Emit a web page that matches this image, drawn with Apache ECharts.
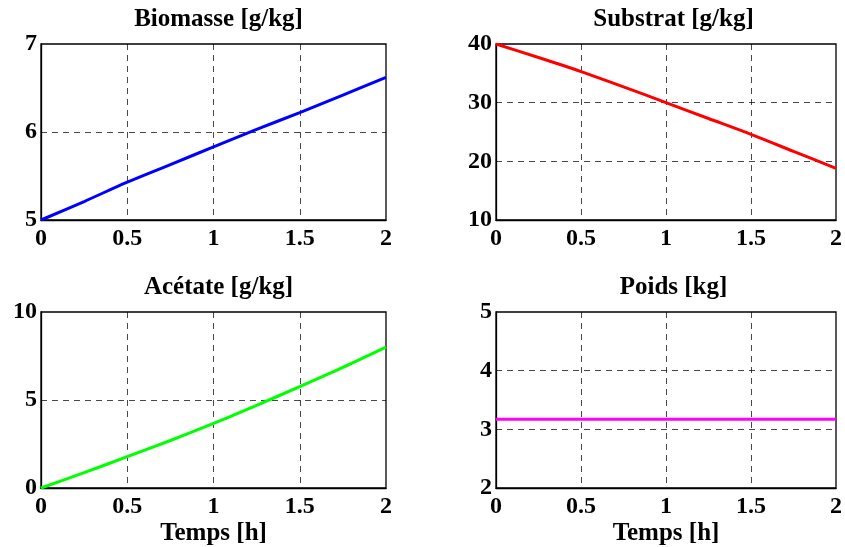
<!DOCTYPE html>
<html>
<head>
<meta charset="utf-8">
<script src="https://cdn.jsdelivr.net/npm/echarts@6/dist/echarts.min.js"></script>
<style>
html,body{margin:0;padding:0;background:#fff;}
#chart{width:845px;height:547px;}
</style>
</head>
<body>
<div id="chart"></div>
<script>
// ---- data ----
const times = [0, 0.25, 0.5, 0.75, 1, 1.25, 1.5, 1.75, 2];
const biomasse = [5.0, 5.21, 5.43, 5.63, 5.83, 6.03, 6.22, 6.42, 6.62];
const substrat = [40.0, 37.7, 35.3, 32.7, 30.0, 27.3, 24.6, 21.7, 18.8];
const acetate = [0.0, 0.87, 1.78, 2.70, 3.67, 4.70, 5.76, 6.85, 8.0];
const poids = [3.17, 3.17, 3.17, 3.17, 3.17, 3.17, 3.17, 3.17, 3.17];
const panelTitles = ['Biomasse [g/kg]', 'Substrat [g/kg]', 'Acétate [g/kg]', 'Poids [kg]'];
const xTicks = [0, 0.5, 1, 1.5, 2];
const yRanges = [[5, 7, 1], [10, 40, 10], [0, 10, 5], [2, 5, 1]];
const xLabel = 'Temps [h]';
const seriesData = [biomasse, substrat, acetate, poids];
const colors = ['#0000ff', '#ff0000', '#00ff00', '#ff00ff'];

// ---- layout ----
const FONT = 'Liberation Serif';
const grids = [
  {left: 41, top: 44, width: 345, height: 176},
  {left: 496, top: 44, width: 345, height: 176},
  {left: 41, top: 312, width: 345, height: 176},
  {left: 496, top: 312, width: 345, height: 176}
];

const chart = echarts.init(document.getElementById('chart'), null, {renderer: 'canvas'});

const option = {
  backgroundColor: '#ffffff',
  animation: false,
  title: grids.map((g, i) => ({
    text: panelTitles[i],
    left: g.left + g.width / 2,
    top: g.top - 42,
    textAlign: 'center',
    textStyle: {fontFamily: FONT, fontWeight: 'bold', fontSize: 25, color: '#000'}
  })),
  grid: grids.map(g => ({
    left: g.left, top: g.top, width: g.width, height: g.height,
    show: true, borderColor: '#000', borderWidth: 1.3, backgroundColor: '#fff', containLabel: false
  })),
  xAxis: grids.map((g, i) => ({
    type: 'value', gridIndex: i, min: xTicks[0], max: xTicks[xTicks.length - 1], interval: 0.5,
    name: i >= 2 ? xLabel : '',
    nameLocation: 'middle', nameGap: 33,
    nameTextStyle: {fontFamily: FONT, fontWeight: 'bold', fontSize: 25, color: '#000'},
    axisLine: {show: true, onZero: false, lineStyle: {color: '#000', width: 1.3}},
    axisTick: {show: false},
    axisLabel: {fontFamily: FONT, fontWeight: 'bold', fontSize: 24, color: '#000', margin: 7,
      showMinLabel: true, showMaxLabel: true},
    splitLine: {show: true, showMinLine: false, showMaxLine: false,
      lineStyle: {color: '#000', type: [6, 5], width: 0.9, opacity: 0.8}}
  })),
  yAxis: grids.map((g, i) => ({
    type: 'value', gridIndex: i, min: yRanges[i][0], max: yRanges[i][1], interval: yRanges[i][2],
    axisLine: {show: true, onZero: false, lineStyle: {color: '#000', width: 1.3}},
    axisTick: {show: false},
    axisLabel: {fontFamily: FONT, fontWeight: 'bold', fontSize: 24, color: '#000', margin: 4,
      showMinLabel: true, showMaxLabel: true},
    splitLine: {show: true, showMinLine: false, showMaxLine: false,
      lineStyle: {color: '#000', type: [6, 5], width: 0.9, opacity: 0.8}}
  })),
  series: seriesData.map((arr, i) => ({
    type: 'line', xAxisIndex: i, yAxisIndex: i,
    data: times.map((t, k) => [t, arr[k]]),
    showSymbol: false, smooth: 0.3,
    lineStyle: {color: colors[i], width: 3},
    itemStyle: {color: colors[i]}
  }))
};
chart.setOption(option);
</script>
</body>
</html>
